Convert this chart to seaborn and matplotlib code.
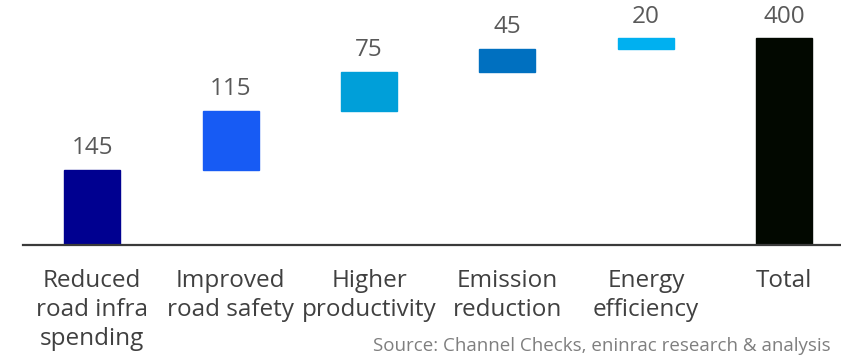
import matplotlib
matplotlib.use("Agg")
import matplotlib.pyplot as plt
import seaborn as sns
import numpy as np
import pandas as pd

categories = ["Reduced\nroad infra\nspending", "Improved\nroad safety", "Higher\nproductivity",
              "Emission\nreduction", "Energy\nefficiency", "Total"]
values = [145, 115, 75, 45, 20, 400]
is_total = [False, False, False, False, False, True]
colors = ["#000090", "#175BF4", "#009FD9", "#0070C0", "#00B0F0", "#020800"]
source = "Source: Channel Checks, eninrac research & analysis"

# Waterfall bottoms: each step starts where the previous cumulative sum ends
bottoms = []
running = 0
for v, tot in zip(values, is_total):
    if tot:
        bottoms.append(0)
    else:
        bottoms.append(running)
        running += v

df = pd.DataFrame({"category": categories, "value": values})

sns.set_style("white")
plt.rcParams["font.family"] = ["Open Sans", "DejaVu Sans"]

fig = plt.figure(figsize=(8.41, 3.56), dpi=100)
ax = fig.add_axes([23 / 841, (356 - 245) / 356, 1 - 23 / 841, 245 / 356])

sns.barplot(data=df, x="category", y="value", bottom=bottoms, width=0.405,
            color=colors[0], ax=ax, errorbar=None)
for patch, c in zip(ax.patches, colors):
    patch.set_facecolor(c)
    patch.set_edgecolor(c)

for i, (v, b) in enumerate(zip(values, bottoms)):
    ax.annotate(f"{v}", xy=(i, b + v), xytext=(0, 7), textcoords="offset points",
                ha="center", va="bottom", fontsize=17.5, color="#595959")

ax.set_xlim(-0.5, 5.41)
ax.set_ylim(0, 474)
ax.set_xlabel("")
ax.set_ylabel("")
ax.set_yticks([])
ax.set_xticks(range(len(categories)))
ax.set_xticklabels(categories, fontsize=17.5, color="#404040", linespacing=1.3, va="top")
ax.tick_params(axis="x", length=0, pad=17)
for s in ["top", "right", "left"]:
    ax.spines[s].set_visible(False)
ax.spines["bottom"].set_color("#3a3a3a")
ax.spines["bottom"].set_linewidth(1.6)

fig.text(373 / 841, 1 / 356, source, fontsize=13.5, color="#7f7f7f",
         ha="left", va="bottom")

fig.savefig("out.png", dpi=100)
